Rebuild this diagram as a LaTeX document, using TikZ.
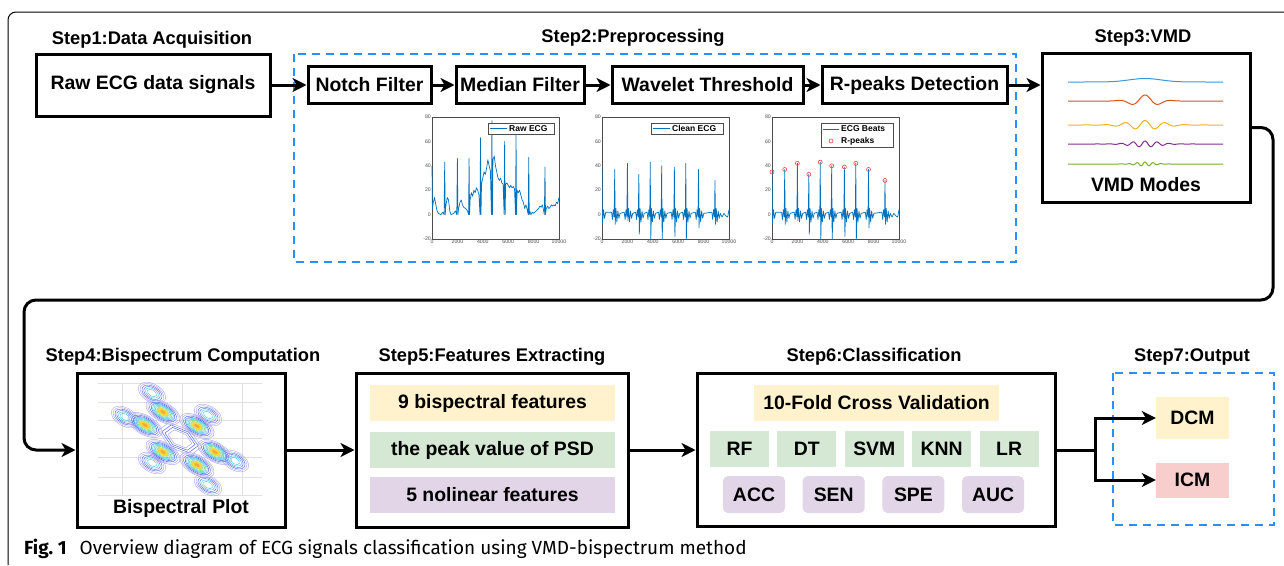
\documentclass[tikz,border=0pt]{standalone}
\usepackage{fontspec}
\setmainfont{Liberation Sans}
\newfontfamily\capfont{Fira Sans}
\usetikzlibrary{arrows.meta}

\definecolor{dashblue}{RGB}{40,145,255}
\definecolor{ecgblue}{RGB}{0,114,189}
\definecolor{fyellow}{HTML}{FFF2CC}
\definecolor{fgreen}{HTML}{D5E8D4}
\definecolor{fpurple}{HTML}{E1D5E7}
\definecolor{fred}{HTML}{F8CECC}
\definecolor{mone}{RGB}{60,150,220}
\definecolor{mtwo}{RGB}{217,83,25}
\definecolor{mthree}{RGB}{237,177,32}
\definecolor{mfour}{RGB}{126,47,142}
\definecolor{mfive}{RGB}{119,172,48}
\definecolor{clav}{RGB}{175,170,240}
\definecolor{cblu}{RGB}{90,110,230}
\definecolor{ccya}{RGB}{60,200,230}
\definecolor{cgre}{RGB}{120,210,120}
\definecolor{cyel}{RGB}{250,215,60}
\definecolor{cora}{RGB}{245,170,50}

\newcommand\boxfont{\fontsize{19.4}{22}\selectfont\bfseries}
\newcommand\titlefont{\fontsize{18.3}{20}\selectfont\bfseries}
\newcommand\legfont{\fontsize{8.5}{9}\selectfont\bfseries}
\newcommand\tickfont{\fontsize{5.2}{6}\selectfont}

% clean ecg trace, data units
\newcommand\cleantrace{%
  \draw[ecg] (0,36) -- (40,-8) -- (120,4) -- (200,-3) -- (300,2)
    \foreach \p/\h/\d in {1000/37/-8,2000/42/-5,2900/33/-16,3800/43/-22,4700/40/-22,5700/39/-18,6600/42/-22,7600/37/-11,8900/28/-8}{
      -- (\p-250,2) -- (\p-180,-4) -- (\p-110,4) -- (\p-40,-2) -- (\p,\h) -- (\p+40,\d)
      -- (\p+100,5) -- (\p+170,-6) -- (\p+250,3) -- (\p+330,-3) -- (\p+420,1)}
    -- (9450,-2) -- (9600,1) -- (9750,-1) -- (9900,-2) -- (10000,4);}

\begin{document}
\begin{tikzpicture}[x=1pt,y=-1pt,
    box/.style={draw,line width=3pt,inner sep=0,font=\boxfont},
    title/.style={font=\titlefont,inner sep=1pt},
    band/.style={inner sep=0,font=\boxfont,minimum height=36pt},
    flow/.style={line width=3pt,-{Stealth[length=14pt,width=14pt,inset=4pt]}},
    group/.style={draw=dashblue,line width=2.5pt,dash pattern=on 8pt off 6pt},
    frame/.style={line width=1pt,rounded corners=8pt},
    axisbox/.style={draw=black!70,line width=0.4pt},
    ecg/.style={draw=ecgblue,line width=0.7pt,line join=round},
    rpk/.style={draw=red!75,line width=0.6pt},
    tick/.style={font=\tickfont,text=black!70,inner sep=1pt},
    legbox/.style={draw=black!70,line width=0.4pt,inner sep=0,fill=white},
    legtext/.style={font=\legfont,inner sep=0},
    gridline/.style={draw=black!12,line width=0.4pt},
    mode/.style={line width=1pt}]
\useasboundingbox (0,0) rectangle (1284,565);
\draw[frame] (1284,12) -- (8,12) -- (8,565);

% Step 1
\node[title] (t1) at (152,40) {Step1:Data Acquisition};
\node[box,minimum width=234pt,minimum height=62pt] (raw) at (153,85) {Raw ECG data signals};

% Step 2
\draw[group] (294,54) rectangle (1016,262);
\node[title] (t2) at (633,38) {Step2:Preprocessing};
\node[box,minimum width=123pt,minimum height=37pt] (notch) at (369.5,85) {Notch Filter};
\node[box,minimum width=128pt,minimum height=37pt] (median) at (520,85) {Median Filter};
\node[box,minimum width=191pt,minimum height=37pt] (wav) at (707.5,85) {Wavelet Threshold};
\node[box,minimum width=185pt,minimum height=37pt] (rpeak) at (914.5,85) {R-peaks Detection};

% raw ecg plot
\begin{scope}[shift={(432,214.6)},x=0.0127pt,y=1.22pt]
  \draw[axisbox] (0,-20) rectangle (10000,80);
  \foreach \t in {0,2000,...,10000} \node[tick,anchor=north] (xa\t) at (\t,-20) {\t};
  \foreach \v in {-20,0,...,80} \node[tick,anchor=east] (ya\v) at (0,\v) {\v};
  \draw[ecg] (0,40) -- (30,5) -- (100,10) -- (200,14) -- (300,8) -- (400,3) -- (500,1) -- (700,0) -- (850,2) -- (950,0)
    -- (1000,43) -- (1040,0) -- (1100,8) -- (1200,14) -- (1300,12) -- (1400,3) -- (1500,0) -- (1700,1) -- (1850,3) -- (1950,0)
    -- (2000,46) -- (2040,0) -- (2100,5) -- (2200,10) -- (2300,12) -- (2400,8) -- (2500,6) -- (2650,5) -- (2800,3) -- (2880,0)
    -- (2920,46) -- (2960,0) -- (3000,12) -- (3100,18) -- (3200,15) -- (3300,20) -- (3400,18) -- (3500,22) -- (3600,20) -- (3700,16) -- (3780,0)
    -- (3820,63) -- (3860,0) -- (3900,25) -- (4000,30) -- (4100,35) -- (4200,33) -- (4300,38) -- (4400,45) -- (4500,40) -- (4600,36) -- (4680,0)
    -- (4720,77) -- (4760,0) -- (4800,45) -- (4900,48) -- (5000,40) -- (5100,35) -- (5200,30) -- (5300,28) -- (5400,30) -- (5500,26) -- (5600,25) -- (5680,0)
    -- (5720,60) -- (5760,0) -- (5800,25) -- (5900,26) -- (6000,24) -- (6100,22) -- (6200,24) -- (6300,22) -- (6400,23) -- (6500,21) -- (6580,0)
    -- (6620,66) -- (6660,0) -- (6700,20) -- (6800,18) -- (6900,20) -- (7000,16) -- (7100,12) -- (7200,10) -- (7300,5) -- (7400,8) -- (7500,4) -- (7580,0)
    -- (7620,47) -- (7660,0) -- (7700,3) -- (7800,0) -- (7900,2) -- (8000,1) -- (8200,3) -- (8400,5) -- (8500,7) -- (8600,6) -- (8700,8) -- (8850,0)
    -- (8900,39) -- (8940,0) -- (9000,5) -- (9100,7) -- (9200,5) -- (9300,6) -- (9400,8) -- (9500,7) -- (9600,8) -- (9700,7) -- (9800,10) -- (9900,9) -- (10000,14);
\end{scope}
\node[legbox,minimum width=66pt,minimum height=11pt] (lga) at (521,128.5) {};
\node[legtext,anchor=west] (lgat) at (509,128.5) {Raw ECG};
\draw[ecg,line width=1pt] (490,128.5) -- (507,128.5);

% clean ecg plot
\begin{scope}[shift={(602,214.6)},x=0.0127pt,y=1.22pt]
  \draw[axisbox] (0,-20) rectangle (10000,80);
  \foreach \t in {0,2000,...,10000} \node[tick,anchor=north] (xb\t) at (\t,-20) {\t};
  \foreach \v in {-20,0,...,80} \node[tick,anchor=east] (yb\v) at (0,\v) {\v};
  \begin{scope}
    \clip (0,-20) rectangle (10000,80);
    \cleantrace
  \end{scope}
\end{scope}
\node[legbox,minimum width=72pt,minimum height=11pt] (lgb) at (687,128.5) {};
\node[legtext,anchor=west] (lgbt) at (672,128.5) {Clean ECG};
\draw[ecg,line width=1pt] (653,128.5) -- (670,128.5);

% r-peaks plot
\begin{scope}[shift={(772,214.6)},x=0.0127pt,y=1.22pt]
  \draw[axisbox] (0,-20) rectangle (10000,80);
  \foreach \t in {0,2000,...,10000} \node[tick,anchor=north] (xc\t) at (\t,-20) {\t};
  \foreach \v in {-20,0,...,80} \node[tick,anchor=east] (yc\v) at (0,\v) {\v};
  \begin{scope}
    \clip (0,-20) rectangle (10000,80);
    \cleantrace
  \end{scope}
  \foreach \p/\h in {0/35,1000/37,2000/42,2900/33,3800/43,4700/40,5700/39,6600/42,7600/37,8900/28}
    \draw[rpk] (\p,\h) circle [radius=2pt];
\end{scope}
\node[legbox,minimum width=72pt,minimum height=24pt] (lgc) at (857,135) {};
\node[legtext,anchor=west] (lgct) at (841,129) {ECG Beats};
\node[legtext,anchor=west] (lgcr) at (841,141) {R-peaks};
\draw[ecg,line width=1pt] (823,129) -- (839,129);
\draw[rpk] (831,141) circle [radius=2pt];

% Step 3
\node[title] (t3) at (1143,38) {Step3:VMD};
\node[box,minimum width=208pt,minimum height=149pt] (vmd) at (1146,127.5) {};
\draw[mode,mone] plot[domain=-77:78,samples=120] ({1145+\x},{82-3.5*exp(-(\x)*(\x)/500)});
\draw[mode,mtwo] plot[domain=-77:78,samples=150] ({1145+\x},{101-6*exp(-(\x)*(\x)/300)*cos(12.9*\x)});
\draw[mode,mthree] plot[domain=-77:78,samples=180] ({1145+\x},{125-4.5*exp(-(\x)*(\x)/600)*cos(18*\x)});
\draw[mode,mfour] plot[domain=-77:78,samples=200] ({1145+\x},{144-3*exp(-(\x)*(\x)/400)*cos(30*\x)});
\draw[mode,mfive] plot[domain=-77:78,samples=240] ({1145+\x},{164-2*exp(-(\x)*(\x)/150)*cos(45*\x)});
\node[font=\boxfont,inner sep=0] (vmdt) at (1146,185) {VMD Modes};

% Step 4
\node[title] (t4) at (183,357) {Step4:Bispectrum Computation};
\node[box,minimum width=208pt,minimum height=154pt] (bis) at (181,450) {};
\begin{scope}[shift={(180,439)}]
  \foreach \gx in {-58,2,62} \draw[gridline] (\gx,-56) -- (\gx,56);
  \foreach \gy in {-56,-37,-19,-1,18,38,56} \draw[gridline] (-82,\gy) -- (82,\gy);
  \foreach \ox/\oy in {-28/-46,-55/-22,28/-24,28/46,55/22,-28/24}{
    \foreach \r/\c in {15/clav,13/clav,11/cblu,9/cblu,7/ccya,5/ccya}
      \draw[\c,line width=0.45pt,rotate around={-30:(\ox,\oy)}] (\ox,\oy) ellipse [x radius=\r, y radius=0.6*\r];
  }
  \foreach \s/\c in {0.62/clav,0.52/cblu,0.43/cblu,0.34/clav}
    \draw[\c,line width=0.5pt,line join=round] (-17*\s,-27*\s) -- (17*\s,-13*\s) -- (35*\s,13*\s) -- (17*\s,26*\s) -- (-17*\s,13*\s) -- (-35*\s,-14*\s) -- cycle;
  \foreach \bx/\by in {-17/-27,-35/-14,17/-13,-17/13,35/13,17/26}{
    \foreach \r/\c in {19/clav,17/clav,15/cblu,13/cblu,11.5/ccya,10/ccya,8.5/cgre}
      \draw[\c,line width=0.5pt,rotate around={-30:(\bx,\by)}] (\bx,\by) ellipse [x radius=\r, y radius=0.5*\r];
    \fill[cgre!60,rotate around={-30:(\bx,\by)}] (\bx,\by) ellipse [x radius=7.5, y radius=3.7];
    \fill[cyel,rotate around={-30:(\bx,\by)}] (\bx,\by) ellipse [x radius=6, y radius=3];
    \fill[cora,rotate around={-30:(\bx,\by)}] (\bx,\by) ellipse [x radius=3, y radius=1.4];
  }
\end{scope}
\node[font=\boxfont,inner sep=0] (bist) at (181,508) {Bispectral Plot};

% Step 5
\node[title] (t5) at (492,357) {Step5:Features Extracting};
\node[box,minimum width=272pt,minimum height=154pt] (feat) at (492,450) {};
\node[band,fill=fyellow,minimum width=245pt] (fa) at (492.5,403) {9 bispectral features};
\node[band,fill=fgreen,minimum width=245pt] (fb) at (492.5,450) {the peak value of PSD};
\node[band,fill=fpurple,minimum width=245pt] (fc) at (492.5,495) {5 nolinear features};

% Step 6
\node[title] (t6) at (874,357) {Step6:Classification};
\node[box,minimum width=358pt,minimum height=153pt] (cls) at (876,450) {};
\node[band,fill=fyellow,minimum width=245pt] (cv) at (876.5,403) {10-Fold Cross Validation};
\foreach \i/\m in {0/RF,1/DT,2/SVM,3/KNN,4/LR}
  \node[band,fill=fgreen,minimum width=59pt] (m\i) at (739.5+67.4*\i,449) {\m};
\foreach \i/\m in {0/ACC,1/SEN,2/SPE,3/AUC}
  \node[band,fill=fpurple,rounded corners=5pt,minimum width=62pt,minimum height=37pt] (e\i) at (754+79.7*\i,494.5) {\m};

% Step 7
\draw[group] (1113,373) rectangle (1274,525);
\node[title] (t7) at (1192,357) {Step7:Output};
\node[band,fill=fyellow,minimum width=73pt,minimum height=42pt] (dcm) at (1192.5,418) {DCM};
\node[band,fill=fred,minimum width=73pt,minimum height=35pt] (icm) at (1192.5,480) {ICM};

% connectors
\coordinate (tr) at (1273,300);
\coordinate (tl) at (24,300);
\coordinate (sp) at (1095,450);
\draw[flow] (raw) -- (notch);
\draw[flow] (notch) -- (median);
\draw[flow] (median) -- (wav);
\draw[flow] (wav) -- (rpeak);
\draw[flow] (rpeak.east) -- (rpeak.east -| vmd.west);
\draw[flow,rounded corners=12pt] (vmd.east) -| (tr) -- (tl) |- (bis.west);
\draw[flow] (bis) -- (feat);
\draw[flow] (feat) -- (cls);
\draw[line width=3pt] (cls.east) -- (sp);
\draw[flow] (sp) |- (dcm.west);
\draw[flow] (sp) |- (icm.west);

% caption
\node[anchor=base west,inner sep=0,font=\capfont\fontsize{19}{22}\selectfont] (cap) at (24,554)
  {\textbf{Fig.~1}\hspace{13pt}Overview diagram of ECG signals classification using VMD-bispectrum method};
\end{tikzpicture}
\end{document}
